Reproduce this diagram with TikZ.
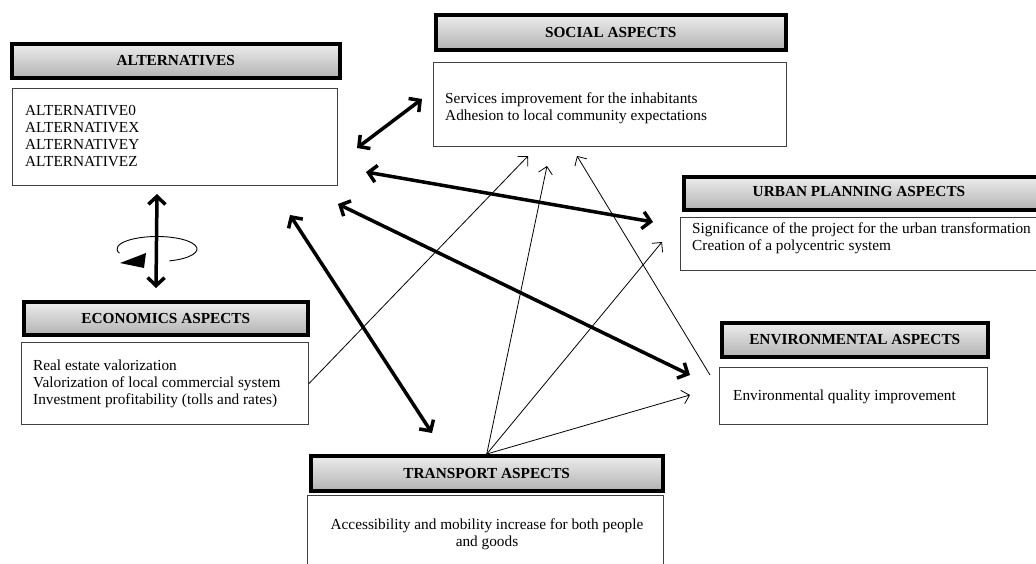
\documentclass[tikz,border=0pt]{standalone}
\usepackage{fontspec}
\setmainfont{Liberation Serif}
\usetikzlibrary{arrows.meta}
\begin{document}
\begin{tikzpicture}[x=1pt,y=-1pt,
  headbox/.style={draw=black, line width=3.5pt, top color=black!7, bottom color=black!30,
    inner sep=0pt, anchor=north west, font=\fontsize{15.3}{17}\selectfont\bfseries},
  headtxt/.style={inner sep=0pt, font=\fontsize{15.3}{17}\selectfont\bfseries},
  contentbox/.style={draw=black!75, line width=1pt, fill=white, inner sep=0pt, anchor=north west},
  txt/.style={inner sep=0pt, align=left, anchor=west, font=\fontsize{15.3}{17}\selectfont},
  bigarrow/.style={line width=3.5pt, {Straight Barb[length=8pt,width=17pt]}-{Straight Barb[length=8pt,width=17pt]}},
  thinarrow/.style={line width=0.8pt, -{Straight Barb[length=7pt,width=14pt]}}]
\clip (0,0) rectangle (1036,563);
\fill[white] (0,0) rectangle (1036,563);

% headers
\node[headbox, minimum width=328, minimum height=34] (althead) at (10,42) {ALTERNATIVES};
\node[headbox, minimum width=350, minimum height=35] (socialhead) at (434,13) {SOCIAL ASPECTS};
\node[headbox, minimum width=360, minimum height=33] (urbanhead) at (682,175) {};
\node[headtxt] (urbantitle) at (859,192) {URBAN PLANNING ASPECTS};
\node[headbox, minimum width=266, minimum height=34] (envhead) at (720,321) {ENVIRONMENTAL ASPECTS};
\node[headbox, minimum width=284, minimum height=33] (econhead) at (22,300) {ECONOMICS ASPECTS};
\node[headbox, minimum width=352, minimum height=35] (transhead) at (309,454) {TRANSPORT ASPECTS};

% content boxes
\node[contentbox, minimum width=325, minimum height=97] (altbox) at (12,88) {};
\node[txt] (alttxt) at (25,136) {ALTERNATIVE0\\ALTERNATIVEX\\ALTERNATIVEY\\ALTERNATIVEZ};
\node[contentbox, minimum width=353, minimum height=84] (socialbox) at (433,62) {};
\node[txt] (socialtxt) at (445,108) {Services improvement for the inhabitants\\Adhesion to local community expectations};
\node[contentbox, minimum width=360, minimum height=53] (urbanbox) at (680,217) {};
\node[txt] (urbantxt) at (692,238) {Significance of the project for the urban transformation\\Creation of a polycentric system};
\node[contentbox, minimum width=268, minimum height=57] (envbox) at (719,367) {};
\node[txt] (envtxt) at (733,397) {Environmental quality improvement};
\node[contentbox, minimum width=287, minimum height=82] (econbox) at (21,342) {};
\node[txt] (econtxt) at (33,384) {Real estate valorization\\Valorization of local commercial system\\Investment profitability (tolls and rates)};
\node[contentbox, minimum width=356, minimum height=110] (transbox) at (307,495) {};
\node[txt, align=center, anchor=center] (transtxt) at (487,534) {Accessibility and mobility increase for both people\\and goods};

% end points of connectors
\coordinate (altS) at (357,148);
\coordinate (socA) at (422,99);
\coordinate (altU) at (366,172);
\coordinate (urbA) at (653,222);
\coordinate (altE) at (338,204);
\coordinate (envA) at (690,375);
\coordinate (altT) at (290,215);
\coordinate (traA) at (432,433);
\coordinate (altC) at (157,194);
\coordinate (ecoA) at (156,288);
\coordinate (socE) at (528,156);
\coordinate (socT) at (547,166);
\coordinate (socV) at (577,156);
\coordinate (envS) at (710,375);
\coordinate (urbT) at (662,242);
\coordinate (envT) at (690,395);

% rotation symbol
\draw[line width=0.9pt] (157,249) ++(72:40 and 12.5) arc[start angle=72, end angle=-200, x radius=40, y radius=12.5];
\fill (120,263) -- (146,253) -- (144,268) -- cycle;

% thick double arrows
\draw[bigarrow] (altS) -- (socA);
\draw[bigarrow] (altU) -- (urbA);
\draw[bigarrow] (altE) -- (envA);
\draw[bigarrow] (altT) -- (traA);
\draw[bigarrow] (altC) -- (ecoA);

% thin arrows
\draw[thinarrow] (econbox.east) -- (socE);
\draw[thinarrow] (transhead.north) -- (socT);
\draw[thinarrow] (envS) -- (socV);
\draw[thinarrow] (transhead.north) -- (urbT);
\draw[thinarrow] (transhead.north) -- (envT);
\end{tikzpicture}
\end{document}
